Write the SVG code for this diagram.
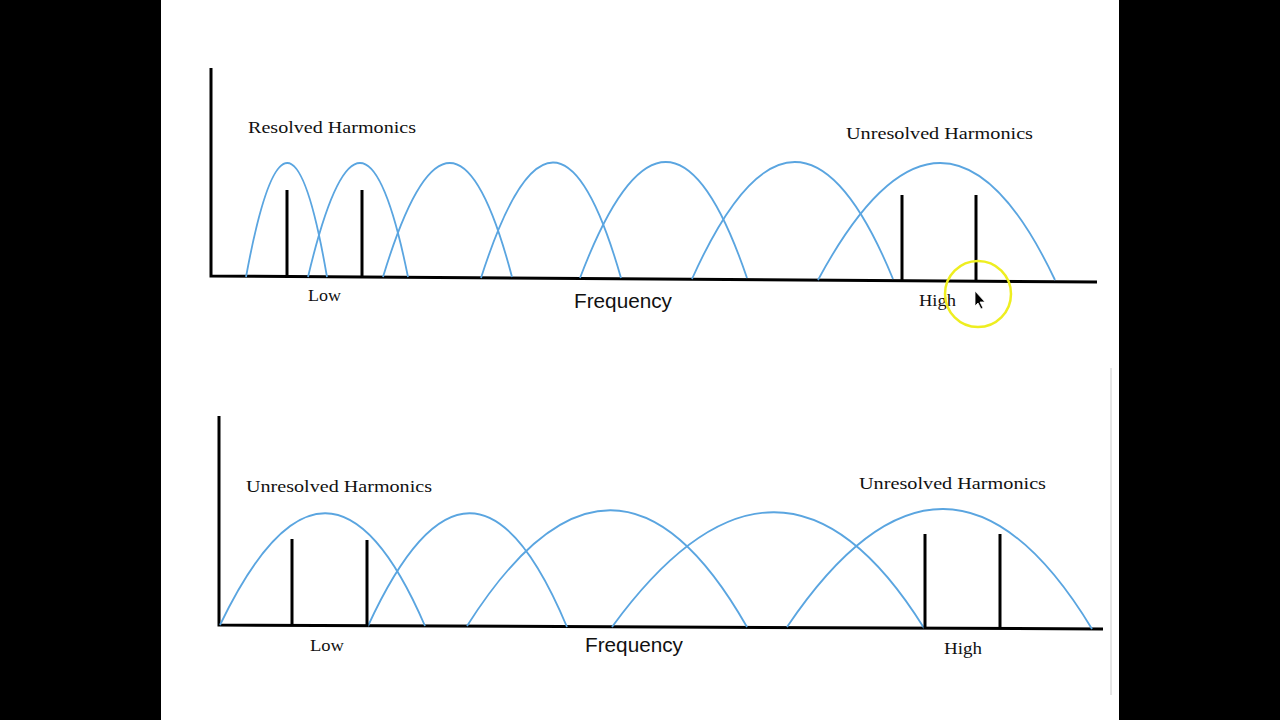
<svg xmlns="http://www.w3.org/2000/svg" width="1280" height="720" viewBox="0 0 1280 720">
<style>
.ax{stroke:#000;stroke-width:3;fill:none}
.bar{stroke:#000;stroke-width:3}
.arc{stroke:#5aa5e0;stroke-width:1.8;fill:none}
.t{font-family:"Liberation Serif",serif;font-size:17px;fill:#111}
.f{font-family:"Liberation Sans",sans-serif;font-size:20px;fill:#111}
</style>
<rect width="1280" height="720" fill="#fff"/>
<rect x="0" y="0" width="161" height="720" fill="#000"/>
<rect x="1119" y="0" width="161" height="720" fill="#000"/>
<line x1="1111" y1="368" x2="1111" y2="695" stroke="#ccc" stroke-width="1"/>
<g id="top-chart">
<path class="ax" d="M211 68 V276 L1097 282"/>
<g id="top-arcs">
<path class="arc" d="M246 277 Q288 49 327 277"/>
<path class="arc" d="M308 277 Q362 49 408 277"/>
<path class="arc" d="M383 277 Q452 49 512 277"/>
<path class="arc" d="M481 278 Q555 47 621 278"/>
<path class="arc" d="M580 278 Q668 46 747 278"/>
<path class="arc" d="M692 279 Q797 45 893 279"/>
<path class="arc" d="M818 280 Q944 46 1055 280"/>
</g>
<g id="top-bars">
<line class="bar" x1="287" y1="190" x2="287" y2="276"/>
<line class="bar" x1="362" y1="190" x2="362" y2="277"/>
<line class="bar" x1="902" y1="195" x2="902" y2="280"/>
<line class="bar" x1="976" y1="195" x2="976" y2="281"/>
</g>
<text class="t" x="248" y="133" textLength="168" lengthAdjust="spacingAndGlyphs">Resolved Harmonics</text>
<text class="t" x="846" y="139" textLength="187" lengthAdjust="spacingAndGlyphs">Unresolved Harmonics</text>
<text class="t" x="308" y="301" textLength="33" lengthAdjust="spacingAndGlyphs">Low</text>
<text class="f" x="574" y="308" textLength="98" lengthAdjust="spacingAndGlyphs">Frequency</text>
<text class="t" x="919" y="306" textLength="37" lengthAdjust="spacingAndGlyphs">High</text>
</g>
<g id="cursor">
<circle cx="978" cy="294" r="33" fill="none" stroke="#eeee20" stroke-width="2.5"/>
<path d="M975 291 L975 306 L978 303 L981 309 L983 308 L980 302 L985 302 Z" fill="#000" stroke="#fff" stroke-width="0.8"/>
</g>
<g id="bottom-chart">
<path class="ax" d="M219 416 V625 L1103 629"/>
<g id="bottom-arcs">
<path class="arc" d="M220 625 Q328 401 425 626"/>
<path class="arc" d="M368 626 Q472 400 567 627"/>
<path class="arc" d="M467 626 Q614 394 747 627"/>
<path class="arc" d="M612 627 Q780 397 924 628"/>
<path class="arc" d="M787 627 Q947 390 1092 629"/>
</g>
<g id="bottom-bars">
<line class="bar" x1="292" y1="539" x2="292" y2="626"/>
<line class="bar" x1="367" y1="540" x2="367" y2="626"/>
<line class="bar" x1="925" y1="534" x2="925" y2="628"/>
<line class="bar" x1="1000" y1="534" x2="1000" y2="628"/>
</g>
<text class="t" x="246" y="492" textLength="186" lengthAdjust="spacingAndGlyphs">Unresolved Harmonics</text>
<text class="t" x="859" y="489" textLength="187" lengthAdjust="spacingAndGlyphs">Unresolved Harmonics</text>
<text class="t" x="310" y="651" textLength="34" lengthAdjust="spacingAndGlyphs">Low</text>
<text class="f" x="585" y="652" textLength="98" lengthAdjust="spacingAndGlyphs">Frequency</text>
<text class="t" x="944" y="654" textLength="38" lengthAdjust="spacingAndGlyphs">High</text>
</g>
</svg>
